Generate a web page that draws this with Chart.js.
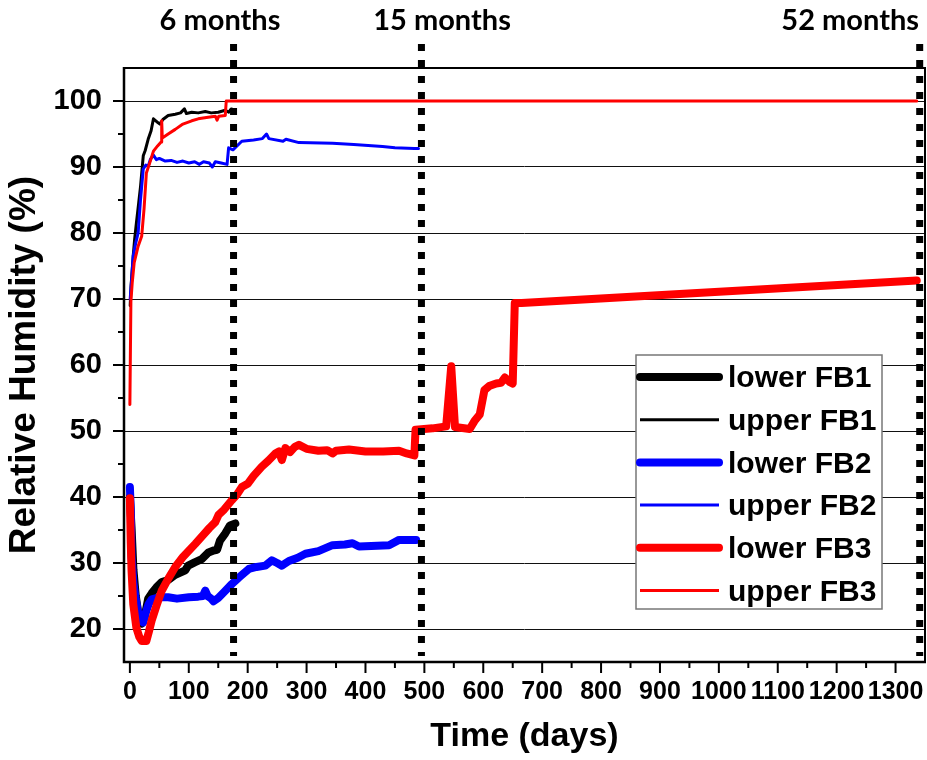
<!DOCTYPE html>
<html><head><meta charset="utf-8">
<script src="https://cdn.jsdelivr.net/npm/chart.js@4.4.0/dist/chart.umd.min.js"></script>
<style>html,body{margin:0;padding:0;background:#fff;} canvas{display:block;}</style>
</head><body>
<canvas id="c" width="927" height="760"></canvas>
<script>
// ---------- data ----------
const xTickValues = [0,100,200,300,400,500,600,700,800,900,1000,1100,1200,1300];
const xMinorValues = [50,150,250,350,450,550,650,750,850,950,1050,1150,1250];
const yTickValues = [20,30,40,50,60,70,80,90,100];
const yMinorValues = [25,35,45,55,65,75,85,95];
const markerDays = [176, 495, 1341];
const markerLabels = ['6 months', '15 months', '52 months'];
const seriesLabels = ['lower FB1', 'upper FB1', 'lower FB2', 'upper FB2', 'lower FB3', 'upper FB3'];

// [day, relative humidity %]
const lowerFB1 = [[0,40],[3,35],[6,29],[10,25],[15,22],[20,20.8],[25,21.8],[31,24.6],[37,25.4],[45,26.3],[54,27.1],[65,27.4],[77,28.2],[94,28.9],[99,29.6],[110,30.1],[122,30.6],[133.5,31.6],[142,31.9],[148,32.0],[153,33.4],[162,34.5],[170,35.7],[179,36.0]];
const upperFB1 = [[0.5,69],[2,72],[5.6,76.5],[8,79],[11,81.5],[15,84.6],[18,87],[22.7,91.7],[26,92.5],[31,94.2],[36,95.5],[40,97.3],[44,97.0],[48,96.7],[51,96.5],[56,97.2],[65,97.8],[77,98.0],[86,98.2],[92.6,98.8],[96,98.1],[105,98.3],[116,98.2],[128,98.4],[138,98.2],[150,98.3],[162,98.6],[168,98.3],[172,98.8],[179,98.6]];
const lowerFB2 = [[0,41.5],[1.5,38],[2.8,31],[6,27],[10,24.5],[14,22.5],[18,21.3],[22.7,21.0],[27,22.5],[32,23.8],[37,24.5],[50,24.8],[65,24.8],[80,24.6],[100,24.8],[116,24.9],[124,25.0],[128,25.8],[132,25.0],[138,24.6],[142,24.2],[150,24.7],[160,25.6],[173,26.8],[185,27.8],[202,29.1],[215,29.4],[230,29.6],[241,30.4],[250,30.0],[258,29.6],[270,30.3],[285,30.8],[298,31.4],[320,31.8],[344,32.7],[365,32.8],[378,33.0],[389,32.5],[420,32.6],[440,32.7],[457,33.5],[486,33.5]];
const upperFB2 = [[0.5,70],[3,73],[5.6,76.5],[10,78.5],[14,80],[18,85],[22.7,89.7],[27,90.3],[31,90.1],[35,91.2],[40,91.8],[45,91.1],[50,91.3],[60,90.9],[70,91.0],[80,90.7],[90,90.9],[100,90.6],[110,90.8],[118,90.4],[125,90.8],[135,90.6],[140,90.0],[145,90.8],[155,90.6],[165,90.4],[167.6,92.9],[175,92.6],[190,93.9],[210,94.1],[225,94.3],[232,95.0],[236,94.3],[260,93.9],[265,94.2],[287,93.7],[344,93.6],[380,93.4],[429,93.1],[450,92.9],[483,92.8],[490,92.8]];
const lowerFB3 = [[0,39.8],[1.5,33],[2.8,28.9],[5.7,23.8],[11,20.2],[16,18.8],[20,18.2],[28,18.2],[32,19.5],[37,21.3],[45,23.5],[54,25.8],[65,27.6],[77,29.4],[90,30.9],[111,32.9],[125,34.3],[135,35.3],[145,36.2],[150.5,37.3],[160,38.1],[173,39.5],[182,40.4],[190,41.5],[200,42.0],[210,43.2],[224,44.6],[235,45.5],[247,46.6],[253,46.9],[258,45.6],[264,47.4],[272,46.8],[280,47.6],[287,47.9],[300,47.3],[320,47.0],[335,47.1],[344,46.6],[350,47.0],[372,47.2],[400,46.9],[430,46.9],[457,47.0],[470,46.6],[483,46.3],[485,50.2],[514,50.4],[537,50.7],[545.6,59.8],[552,50.6],[577,50.3],[585,51.5],[594,52.5],[602,56.2],[610,56.8],[622,57.2],[630,57.3],[636.5,58.1],[645,57.4],[650,57.2],[653.5,69.4],[665,69.4],[1336,72.8]];
const upperFB3 = [[0,54],[1.7,69.6],[4,72.5],[7.3,75.5],[14,78],[20,79.5],[24,83.6],[28,89.1],[34,90.7],[40,92.4],[47,93.2],[53,93.8],[54,97.0],[55,94.4],[65,95.0],[77,95.7],[90,96.5],[105,97.0],[116,97.3],[130,97.5],[145,97.7],[148,97.1],[151,97.7],[162,97.8],[163.6,100],[1336,100]];

// ---------- chart ----------
const toXY = arr => arr.map(p => ({x: p[0], y: p[1]}));
const ARIAL = "'Liberation Sans', Arial, sans-serif";
const THICK = 8, THIN = 3;

const datasets = [
  {label: seriesLabels[0], data: toXY(lowerFB1), borderColor: '#000000', borderWidth: THICK, order: 5},
  {label: seriesLabels[1], data: toXY(upperFB1), borderColor: '#000000', borderWidth: THIN, order: 4},
  {label: seriesLabels[2], data: toXY(lowerFB2), borderColor: '#0000ff', borderWidth: THICK, order: 3},
  {label: seriesLabels[3], data: toXY(upperFB2), borderColor: '#0000ff', borderWidth: THIN, order: 2},
  {label: seriesLabels[4], data: toXY(lowerFB3), borderColor: '#ff0000', borderWidth: THICK, order: 0},
  {label: seriesLabels[5], data: toXY(upperFB3), borderColor: '#ff0000', borderWidth: THIN, order: 1}
];

const framePlugin = {
  id: 'frame',
  afterDatasetsDraw(chart) {
    const {ctx, chartArea: a, scales: {x, y}} = chart;
    ctx.save();
    ctx.strokeStyle = '#000';
    ctx.lineCap = 'butt';
    ctx.lineWidth = 2;
    ctx.beginPath();
    ctx.moveTo(a.left, a.top); ctx.lineTo(a.right, a.top); ctx.lineTo(a.right, a.bottom);
    ctx.stroke();
    ctx.lineWidth = 2.5;
    ctx.beginPath();
    ctx.moveTo(a.left, a.top - 1); ctx.lineTo(a.left, a.bottom); ctx.lineTo(a.right + 1, a.bottom);
    ctx.stroke();
    ctx.lineWidth = 2;
    ctx.beginPath();
    xTickValues.forEach(v => { const p = x.getPixelForValue(v); ctx.moveTo(p, a.bottom); ctx.lineTo(p, a.bottom + 11); });
    xMinorValues.forEach(v => { const p = x.getPixelForValue(v); ctx.moveTo(p, a.bottom); ctx.lineTo(p, a.bottom + 6); });
    yTickValues.forEach(v => { const p = y.getPixelForValue(v); ctx.moveTo(a.left, p); ctx.lineTo(a.left - 11, p); });
    yMinorValues.forEach(v => { const p = y.getPixelForValue(v); ctx.moveTo(a.left, p); ctx.lineTo(a.left - 6, p); });
    ctx.stroke();
    ctx.restore();
  }
};

const markerPlugin = {
  id: 'markers',
  afterDatasetsDraw(chart, args, opts) {
    const {ctx, chartArea: a, scales: {x}} = chart;
    ctx.save();
    ctx.strokeStyle = '#000';
    ctx.lineWidth = 7;
    ctx.lineCap = 'butt';
    ctx.setLineDash([7, 9]);
    markerDays.forEach(d => {
      const p = x.getPixelForValue(d);
      ctx.beginPath(); ctx.moveTo(p, opts.lineTop); ctx.lineTo(p, a.bottom - 6); ctx.stroke();
    });
    ctx.setLineDash([]);
    ctx.fillStyle = '#000';
    ctx.font = opts.font;
    ctx.textAlign = 'center';
    ctx.textBaseline = 'middle';
    markerLabels.forEach((t, i) => ctx.fillText(t, x.getPixelForValue(opts.labelDays[i]), opts.labelY));
    ctx.restore();
  }
};

const legendPlugin = {
  id: 'boxLegend',
  afterDraw(chart, args, o) {
    const {ctx} = chart;
    ctx.save();
    ctx.fillStyle = '#fff';
    ctx.fillRect(o.left, o.top, o.width, o.height);
    ctx.strokeStyle = '#777';
    ctx.lineWidth = 1.5;
    ctx.strokeRect(o.left, o.top, o.width, o.height);
    chart.data.datasets.forEach((ds, i) => {
      const yy = o.top + o.firstRow + i * o.rowGap;
      ctx.strokeStyle = ds.borderColor;
      ctx.lineWidth = ds.borderWidth;
      ctx.lineCap = ds.borderWidth > 5 ? 'round' : 'butt';
      ctx.beginPath(); ctx.moveTo(o.lineX0, yy); ctx.lineTo(o.lineX1, yy); ctx.stroke();
      ctx.fillStyle = '#000';
      ctx.font = o.font;
      ctx.textAlign = 'left';
      ctx.textBaseline = 'middle';
      ctx.fillText(ds.label, o.textX, yy + 2);
    });
    ctx.restore();
  }
};

new Chart(document.getElementById('c'), {
  type: 'line',
  data: {datasets},
  options: {
    responsive: false,
    animation: false,
    events: [],
    layout: {padding: {top: 68, right: 2, left: 0, bottom: 0}, autoPadding: false},
    elements: {
      point: {radius: 0},
      line: {tension: 0, borderJoinStyle: 'round', borderCapStyle: 'round', fill: false}
    },
    plugins: {
      legend: {display: false},
      tooltip: {enabled: false},
      markers: {lineTop: 44, labelY: 21, labelDays: [153, 530, 1223], font: "bold 29px Lato, 'Open Sans', sans-serif"},
      boxLegend: {left: 636, top: 355, width: 246, height: 254, firstRow: 22, rowGap: 42.7,
                  lineX0: 640, lineX1: 719, textX: 728, font: "bold 30px " + ARIAL}
    },
    scales: {
      x: {
        type: 'linear', min: -10, max: 1350,
        afterBuildTicks: s => { s.ticks = xTickValues.map(v => ({value: v})); },
        afterFit: s => { s.height = 98; s.paddingLeft = 0; s.paddingRight = 0; },
        grid: {display: false, drawTicks: false},
        border: {display: false},
        ticks: {color: '#000', font: {family: ARIAL, size: 25, weight: 'bold'}, padding: 15, maxRotation: 0, autoSkip: false,
                callback: v => String(v)},
        title: {display: true, text: 'Time (days)', color: '#000', font: {family: ARIAL, size: 34, weight: 'bold'}, padding: {top: 0, bottom: 3}}
      },
      y: {
        type: 'linear', min: 15, max: 105,
        afterBuildTicks: s => { s.ticks = yTickValues.map(v => ({value: v})); },
        afterFit: s => { s.width = 124; s.paddingTop = 0; s.paddingBottom = 0; },
        grid: {color: '#111', lineWidth: 1, drawTicks: false},
        border: {display: false},
        ticks: {color: '#000', font: {family: ARIAL, size: 29, weight: 'bold'}, padding: 22, callback: v => String(v)},
        title: {display: true, text: 'Relative Humidity (%)', color: '#000', font: {family: ARIAL, size: 37, weight: 'bold'}, padding: {top: 3, bottom: 0}}
      }
    }
  },
  plugins: [framePlugin, markerPlugin, legendPlugin]
});
</script>
</body></html>
